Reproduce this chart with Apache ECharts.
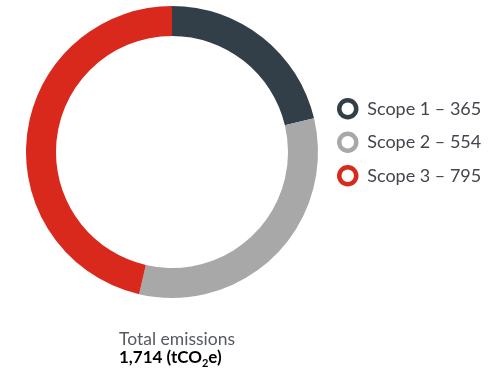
<!DOCTYPE html>
<html>
<head>
<meta charset="utf-8">
<script src="https://cdn.jsdelivr.net/npm/echarts@6/dist/echarts.min.js"></script>
<style>
  html, body { margin: 0; padding: 0; background: #fff; }
  #chart { width: 488px; height: 373px; }
</style>
</head>
<body>
<div id="chart"></div>
<script>
// scopes and their emissions (tCO2e)
const scopes = ['Scope 1', 'Scope 2', 'Scope 3'];
const emissions = [365, 554, 795];
const colors = ['#333f48', '#a8a8a8', '#d9291c'];
const total = emissions.reduce((a, b) => a + b, 0);

const myChart = echarts.init(document.getElementById('chart'));

const option = {
  animation: false,
  legend: {
    orient: 'vertical',
    left: 332,
    top: 93,
    itemWidth: 17,
    itemHeight: 17,
    itemGap: 12,
    icon: 'circle',
    // hollow ring icons, one per scope
    data: scopes.map((s, i) => ({
      name: s,
      itemStyle: { color: '#fff', borderColor: colors[i], borderWidth: 4.5 }
    })),
    textStyle: { fontFamily: 'Lato', fontSize: 18, color: '#42464c', padding: [0, 0, 0, 6] },
    formatter: name => name + ' – ' + emissions[scopes.indexOf(name)]
  },
  graphic: [
    {
      type: 'text',
      left: 119,
      top: 330,
      style: {
        text: 'Total emissions',
        font: '17.5px Lato',
        fill: '#555a60'
      }
    },
    {
      type: 'text',
      left: 119,
      top: 349,
      style: {
        text: '{b|' + total.toLocaleString('en-US') + ' (tCO}{s|2}{b|e)}',
        rich: {
          b: { fontFamily: 'Lato', fontWeight: 'bold', fontSize: 17, color: '#333', verticalAlign: 'top' },
          s: { fontFamily: 'Lato', fontWeight: 'bold', fontSize: 11, color: '#333', verticalAlign: 'top', padding: [9, 0, 0, 0] }
        }
      }
    }
  ],
  series: [
    {
      type: 'pie',
      center: [172, 152],
      radius: [116, 146],
      startAngle: 90,
      label: { show: false },
      labelLine: { show: false },
      emphasis: { disabled: true },
      data: scopes.map((s, i) => ({
        name: s,
        value: emissions[i],
        itemStyle: { color: colors[i] }
      }))
    }
  ]
};
option && myChart.setOption(option);
</script>
</body>
</html>
